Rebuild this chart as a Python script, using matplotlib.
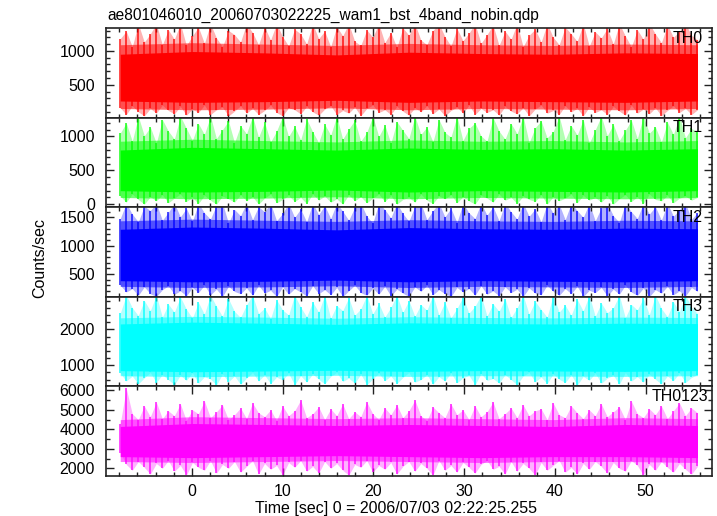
import numpy as np
import matplotlib
matplotlib.use("Agg")
import matplotlib.pyplot as plt
from matplotlib.ticker import MultipleLocator

plt.rcParams['font.family'] = ['Liberation Sans', 'DejaVu Sans']

# --- data (estimated envelopes of the noisy light curves) ---
title = "ae801046010_20060703022225_wam1_bst_4band_nobin.qdp"
bands = ["TH0", "TH1", "TH2", "TH3", "TH0123"]
colors = ["#ff0000", "#00ff00", "#0000ff", "#00ffff", "#ff00ff"]

t_start, t_end = -7.9, 55.7
n_spk = 97
n_core = 9

# spike tops / bottoms
th0_hi = [1180, 1290, 1060, 1400, 1130, 1250, 1400, 1090, 1310, 1170,
          1400, 1080, 1220, 1350, 1110, 1400, 1190, 1060, 1300, 1240,
          1130, 1400, 1270, 1090, 1350, 1160, 1400, 1210, 1070, 1320,
          1250, 1100, 1400, 1180, 1290, 1060, 1360, 1220, 1400, 1140,
          1080, 1310, 1200, 1400, 1120, 1270, 1050, 1340, 1230, 1400,
          1160, 1090, 1300, 1400, 1210, 1070, 1330, 1150, 1260, 1400,
          1110, 1240, 1380, 1080, 1290, 1170, 1400, 1060, 1230, 1320,
          1130, 1400, 1200, 1090, 1350, 1250, 1140, 1400, 1070, 1280,
          1190, 1330, 1100, 1400, 1220, 1060, 1310, 1170, 1400, 1250,
          1120, 1380, 1200, 1290, 1400, 1230, 1160]
th0_lo = [160, 60, 190, 100, 40, 150, 80, 200, 120, 70,
          180, 50, 140, 90, 200, 60, 130, 170, 40, 110,
          190, 80, 150, 60, 120, 200, 90, 40, 160, 130,
          70, 180, 100, 50, 140, 190, 60, 120, 80, 170,
          40, 150, 200, 90, 130, 60, 180, 110, 50, 160,
          100, 190, 70, 140, 40, 120, 170, 80, 200, 60,
          150, 90, 130, 50, 180, 110, 70, 160, 40, 140,
          200, 80, 120, 60, 190, 100, 150, 40, 170, 90,
          130, 60, 180, 110, 50, 200, 80, 140, 70, 160,
          40, 120, 190, 90, 150, 60, 130]

th1_hi = [1050, 1200, 930, 1300, 1010, 1140, 900, 1250, 1080, 960,
          1300, 1120, 940, 1190, 1030, 1300, 970, 1100, 1230, 910,
          1160, 1040, 1300, 990, 1210, 920, 1080, 1300, 1000, 1150,
          950, 1260, 1070, 910, 1180, 1020, 1300, 960, 1110, 1240,
          930, 1060, 1300, 1000, 1170, 900, 1220, 1090, 970, 1300,
          1030, 1140, 920, 1250, 1060, 990, 1300, 940, 1120, 1200,
          1010, 930, 1280, 1080, 960, 1190, 1040, 1300, 910, 1130,
          1230, 980, 1070, 1300, 950, 1160, 1020, 1250, 900, 1100,
          1300, 1010, 1180, 940, 1090, 1240, 970, 1300, 1050, 1140,
          920, 1210, 1030, 1300, 980, 1120, 1060]
th1_lo = [120, 30, 150, 70, 0, 110, 50, 140, 20, 90,
          150, 40, 100, 10, 130, 60, 0, 120, 80, 30,
          140, 50, 110, 0, 90, 150, 20, 70, 130, 40,
          100, 10, 150, 60, 120, 30, 80, 0, 140, 50,
          110, 20, 90, 150, 40, 130, 0, 70, 100, 30,
          150, 60, 10, 120, 80, 140, 20, 110, 50, 0,
          130, 90, 30, 150, 60, 100, 10, 120, 70, 40,
          140, 0, 110, 50, 90, 150, 20, 130, 60, 100,
          30, 120, 0, 80, 140, 40, 110, 10, 150, 70,
          50, 130, 20, 90, 120, 60, 100]

th2_hi = [1480, 1750, 1560, 1420, 1700, 1620, 1750, 1450, 1590, 1750,
          1510, 1660, 1430, 1750, 1580, 1470, 1720, 1750, 1400, 1640,
          1530, 1750, 1460, 1690, 1600, 1750, 1440, 1570, 1750, 1500,
          1650, 1420, 1750, 1550, 1710, 1480, 1750, 1610, 1450, 1680,
          1750, 1520, 1400, 1750, 1640, 1490, 1750, 1570, 1430, 1700,
          1750, 1460, 1620, 1750, 1510, 1660, 1410, 1750, 1580, 1480,
          1750, 1540, 1690, 1440, 1750, 1600, 1470, 1750, 1520, 1650,
          1420, 1750, 1580, 1730, 1460, 1750, 1620, 1500, 1750, 1440,
          1670, 1750, 1530, 1410, 1750, 1600, 1480, 1750, 1560, 1690,
          1450, 1750, 1520, 1640, 1750, 1470, 1580]
th2_lo = [300, 180, 240, 120, 270, 150, 100, 220, 290, 140,
          200, 110, 260, 170, 300, 130, 230, 100, 280, 190,
          150, 250, 120, 300, 160, 210, 100, 270, 140, 240,
          180, 110, 290, 150, 220, 130, 260, 100, 200, 300,
          170, 120, 250, 140, 280, 110, 230, 160, 100, 270,
          190, 300, 130, 220, 150, 100, 260, 180, 240, 120,
          290, 140, 200, 110, 270, 170, 230, 100, 250, 160,
          130, 300, 190, 120, 240, 150, 280, 100, 210, 170,
          260, 110, 230, 140, 300, 180, 120, 250, 100, 220,
          160, 280, 130, 200, 110, 260, 190]

th3_hi = [2450, 2950, 2600, 2380, 2800, 2520, 2950, 2340, 2700, 2480,
          2900, 2560, 2310, 2750, 2420, 2950, 2640, 2360, 2850, 2500,
          2330, 2680, 2950, 2440, 2590, 2300, 2820, 2540, 2400, 2950,
          2620, 2350, 2760, 2480, 2950, 2310, 2660, 2520, 2880, 2390,
          2570, 2950, 2430, 2720, 2340, 2610, 2950, 2470, 2800, 2360,
          2690, 2530, 2950, 2400, 2750, 2320, 2580, 2900, 2450, 2640,
          2950, 2370, 2710, 2500, 2850, 2330, 2600, 2950, 2420, 2780,
          2550, 2340, 2950, 2480, 2670, 2390, 2830, 2510, 2950, 2360,
          2730, 2460, 2600, 2950, 2320, 2690, 2540, 2870, 2410, 2950,
          2580, 2350, 2760, 2490, 2950, 2620, 2440]
th3_lo = [780, 560, 700, 480, 650, 800, 520, 740, 600, 460,
          720, 580, 790, 500, 680, 620, 450, 760, 540, 700,
          470, 640, 800, 560, 730, 490, 670, 590, 780, 450,
          710, 530, 760, 610, 480, 690, 800, 550, 640, 500,
          750, 460, 620, 780, 570, 700, 490, 660, 800, 530,
          600, 740, 470, 680, 560, 790, 510, 650, 720, 450,
          770, 580, 630, 500, 740, 600, 460, 700, 800, 540,
          670, 490, 760, 610, 520, 730, 450, 690, 580, 780,
          500, 640, 720, 470, 800, 560, 680, 530, 750, 610,
          480, 700, 570, 790, 520, 660, 740]

th0123_hi = [4300, 6100, 4800, 4500, 5200, 4650, 5400, 4550, 4950, 4700,
             5300, 4450, 5000, 4800, 5450, 4600, 4900, 5250, 4500, 4750,
             5100, 4550, 5350, 4850, 4650, 5000, 4450, 5200, 4700, 4950,
             5500, 4600, 4800, 5150, 4500, 5050, 4700, 5300, 4550, 4900,
             4650, 5400, 4800, 4500, 5100, 4750, 5250, 4600, 4950, 5500,
             4700, 4450, 5150, 4850, 4600, 5300, 4750, 5000, 4500, 5200,
             4650, 4900, 5400, 4550, 4800, 5100, 4600, 5250, 4700, 4950,
             5050, 4500, 5350, 4750, 4600, 5200, 4850, 4550, 5000, 4700,
             5300, 4650, 4900, 5150, 4500, 5450, 4800, 4600, 5050, 4750,
             5200, 4550, 4950, 5350, 4700, 5100, 4850]
th0123_lo = [2800, 2200, 1900, 2350, 2050, 1700, 2250, 2000, 2400, 1850,
             2150, 1650, 2300, 2050, 1900, 2400, 1750, 2200, 2000, 2350,
             1800, 2100, 2400, 1700, 2250, 1950, 2150, 1650, 2300, 2050,
             2400, 1850, 2100, 1750, 2350, 2000, 2250, 1900, 1650, 2200,
             2050, 2400, 1800, 2150, 1950, 2300, 1700, 2100, 2350, 1850,
             2250, 2000, 1650, 2400, 1900, 2150, 1800, 2300, 2050, 1750,
             2200, 2400, 1950, 2100, 1700, 2350, 1850, 2250, 2000, 1650,
             2300, 1900, 2150, 2400, 1800, 2050, 1700, 2250, 1950, 2350,
             2100, 1750, 2300, 2000, 1850, 2400, 2150, 1650, 2200, 1900,
             2350, 2050, 1800, 2250, 1950, 1700, 2100]

# dense core (solid) and fringe (semi-dense) bands on a coarse time grid
th0_core_hi = [950, 990, 970, 940, 980, 960, 950, 970, 960]
th0_core_lo = [260, 240, 250, 270, 240, 260, 250, 240, 260]
th0_frg_hi = [1090, 1120, 1100, 1080, 1110, 1090, 1080, 1100, 1090]
th0_frg_lo = [150, 130, 140, 160, 130, 150, 140, 130, 150]

th1_core_hi = [800, 840, 820, 800, 830, 810, 820, 800, 820]
th1_core_lo = [200, 180, 190, 210, 180, 200, 190, 180, 200]
th1_frg_hi = [930, 960, 940, 920, 950, 930, 940, 920, 940]
th1_frg_lo = [100, 80, 90, 110, 80, 100, 90, 80, 100]

th2_core_hi = [1290, 1330, 1310, 1280, 1320, 1300, 1290, 1310, 1300]
th2_core_lo = [380, 360, 370, 390, 360, 380, 370, 360, 380]
th2_frg_hi = [1440, 1470, 1450, 1430, 1460, 1440, 1430, 1450, 1440]
th2_frg_lo = [280, 260, 270, 290, 260, 280, 270, 260, 280]

th3_core_hi = [2150, 2200, 2170, 2140, 2180, 2160, 2150, 2170, 2160]
th3_core_lo = [850, 820, 840, 860, 830, 850, 840, 830, 850]
th3_frg_hi = [2320, 2360, 2340, 2310, 2350, 2330, 2320, 2340, 2330]
th3_frg_lo = [710, 680, 700, 720, 690, 710, 700, 690, 710]

th0123_core_hi = [4150, 4300, 4250, 4200, 4250, 4200, 4150, 4250, 4200]
th0123_core_lo = [2600, 2550, 2600, 2650, 2600, 2550, 2600, 2600, 2550]
th0123_frg_hi = [4500, 4650, 4600, 4550, 4600, 4550, 4500, 4600, 4550]
th0123_frg_lo = [2350, 2300, 2350, 2400, 2350, 2300, 2350, 2350, 2300]

spk_hi = [th0_hi, th1_hi, th2_hi, th3_hi, th0123_hi]
spk_lo = [th0_lo, th1_lo, th2_lo, th3_lo, th0123_lo]
core_hi = [th0_core_hi, th1_core_hi, th2_core_hi, th3_core_hi, th0123_core_hi]
core_lo = [th0_core_lo, th1_core_lo, th2_core_lo, th3_core_lo, th0123_core_lo]
frg_hi = [th0_frg_hi, th1_frg_hi, th2_frg_hi, th3_frg_hi, th0123_frg_hi]
frg_lo = [th0_frg_lo, th1_frg_lo, th2_frg_lo, th3_frg_lo, th0123_frg_lo]

ylims = [(15, 1337), (-44, 1279), (95, 1681), (412, 2905), (1607, 6204)]
y_major = [500, 500, 500, 1000, 1000]
y_minor = [100, 100, 100, 200, 500]
xlim = (-9.47, 57.3)

t_spk = np.linspace(t_start, t_end, n_spk)
t_core = np.linspace(t_start, t_end, n_core)

# --- figure ---
W, H = 717, 516
fig = plt.figure(figsize=(W / 100, H / 100), dpi=100)
left, right, top, bottom = 106, 712, 28, 476
ph = (bottom - top) / 5
label_x = [0.985, 0.985, 0.985, 0.985, 0.993]
fs = 11.5

for i in range(5):
    ax = fig.add_axes([left / W, (H - top - (i + 1) * ph) / H, (right - left) / W, ph / H])
    c = colors[i]
    ax.fill_between(t_spk, spk_lo[i], spk_hi[i], color=c, alpha=0.3, lw=0)
    ax.fill_between(t_core, frg_lo[i], frg_hi[i], color=c, alpha=0.55, lw=0)
    ax.vlines(t_spk, spk_lo[i], spk_hi[i], color=c, lw=1.1, alpha=0.9)
    ax.fill_between(t_core, core_lo[i], core_hi[i], color=c, lw=0)

    ax.set_xlim(*xlim)
    ax.set_ylim(*ylims[i])
    ax.xaxis.set_major_locator(MultipleLocator(10))
    ax.xaxis.set_minor_locator(MultipleLocator(2))
    ax.yaxis.set_major_locator(MultipleLocator(y_major[i]))
    ax.yaxis.set_minor_locator(MultipleLocator(y_minor[i]))
    ax.tick_params(which='both', direction='in', top=True, right=True,
                   labelsize=fs, colors='#222222', labelcolor='black')
    ax.tick_params(which='major', length=6, width=1)
    ax.tick_params(which='minor', length=3, width=1)
    ax.tick_params(axis='y', pad=8)
    ax.tick_params(axis='x', pad=6)
    for s in ax.spines.values():
        s.set_color('#222222')
        s.set_linewidth(1.2)
    if i < 4:
        ax.tick_params(labelbottom=False)
    ax.text(label_x[i], 0.97, bands[i], transform=ax.transAxes,
            ha='right', va='top', fontsize=fs)

fig.text(107 / W, 1 - 20 / H, title, ha='left', va='baseline', fontsize=11.2)
fig.text(40 / W, 1 - 258 / H, "Counts/sec", rotation=90, ha='center', va='center', fontsize=fs)
fig.text(396 / W, 1 - 509 / H, "Time [sec] 0 = 2006/07/03 02:22:25.255",
         ha='center', va='center', fontsize=fs)

fig.savefig("out.png", dpi=100)
